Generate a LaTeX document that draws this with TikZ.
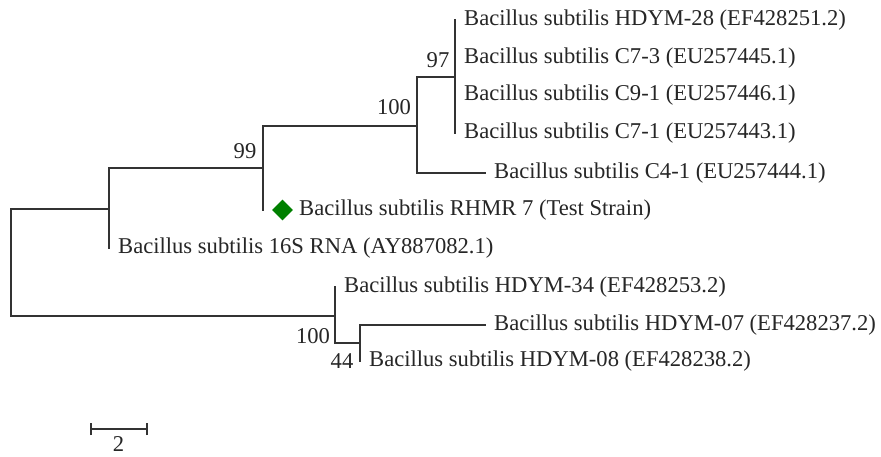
\documentclass[tikz,border=0pt]{standalone}
\usepackage{fontspec}
\setmainfont{Liberation Serif}
\usetikzlibrary{shapes.geometric}
\begin{document}
\begin{tikzpicture}[x=1pt,y=-1pt,
  br/.style={line width=1.3pt, draw=black!80, line cap=rect},
  leaf/.style={anchor=west, inner xsep=9pt, inner ysep=0pt, font=\fontsize{22.6}{26}\selectfont, text=black!85},
  boot/.style={inner sep=0pt, font=\fontsize{22.6}{26}\selectfont, text=black!85}]
\useasboundingbox[fill=white] (0,0) rectangle (881,456);
% internal nodes
\coordinate (R) at (11,262);
\coordinate (N1) at (109,209);
\coordinate (N2) at (263,168);
\coordinate (N3) at (417,126);
\coordinate (N4) at (455,77);
\coordinate (M1) at (335,316);
\coordinate (M2) at (360,343);
\coordinate (rh) at (263,210);
% leaves
\node[leaf] (h28) at (455,20) {Bacillus subtilis HDYM-28 (EF428251.2)};
\node[leaf] (c73) at (455,58) {Bacillus subtilis C7-3 (EU257445.1)};
\node[leaf] (c91) at (455,95) {Bacillus subtilis C9-1 (EU257446.1)};
\node[leaf] (c71) at (455,133) {Bacillus subtilis C7-1 (EU257443.1)};
\node[leaf] (c41) at (485,173) {Bacillus subtilis C4-1 (EU257444.1)};
\node[diamond, fill=green!50!black, inner sep=0pt, minimum size=21pt] (dm) at (282.5,210) {};
\node[leaf, inner xsep=0pt] (rhmr) at (299,210) {Bacillus subtilis RHMR 7 (Test Strain)};
\node[leaf] (s16) at (109,248) {Bacillus subtilis 16S RNA (AY887082.1)};
\node[leaf] (h34) at (335,287) {Bacillus subtilis HDYM-34 (EF428253.2)};
\node[leaf] (h07) at (485,325) {Bacillus subtilis HDYM-07 (EF428237.2)};
\node[leaf] (h08) at (360,361) {Bacillus subtilis HDYM-08 (EF428238.2)};
% bootstrap
\node[boot] (b99) at (245,151) {99};
\node[boot] (b100a) at (394,107) {100};
\node[boot] (b97) at (438,60) {97};
\node[boot] (b100b) at (313,336) {100};
\node[boot] (b44) at (342,361) {44};
% branches
\draw[br] (N1) -| (R) |- (M1);
\draw[br] (N2) -| (N1) |- (s16.west);
\draw[br] (N3) -| (N2) |- (rh);
\draw[br] (N4) -| (N3) |- (c41.west);
\draw[br] (h28.west) -- (c71.west);
\draw[br] (h34.west) -| (M1) |- (M2);
\draw[br] (h07.west) -| (M2) |- (h08.west);
% scale bar
\coordinate (sb1) at (91,429);
\coordinate (sb2) at (147,429);
\draw[br, line cap=butt] (sb1) -- (sb2);
\draw[br, line cap=butt] ([yshift=-6pt]sb1) -- ([yshift=6pt]sb1);
\draw[br, line cap=butt] ([yshift=-6pt]sb2) -- ([yshift=6pt]sb2);
\node[boot] (sbl) at (118.5,444) {2};
\end{tikzpicture}
\end{document}
